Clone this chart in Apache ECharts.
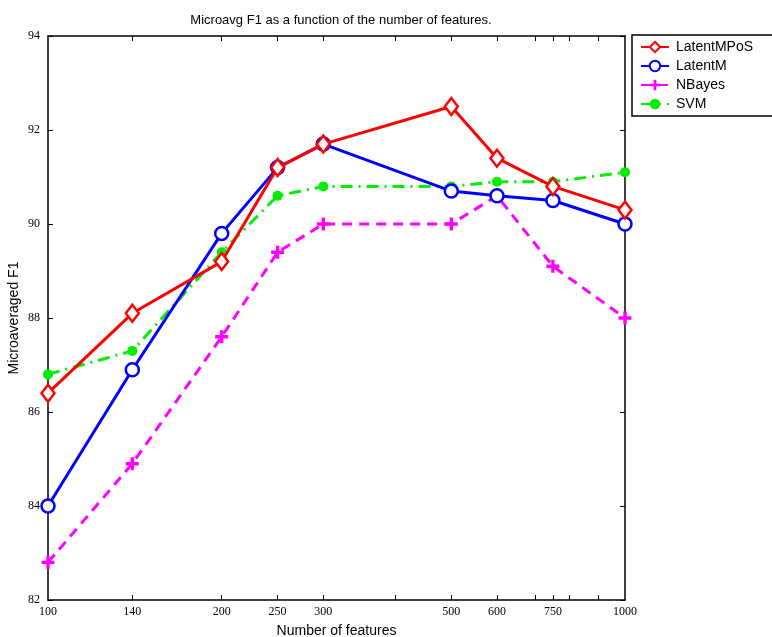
<!DOCTYPE html>
<html><head><meta charset="utf-8">
<script src="https://cdn.jsdelivr.net/npm/echarts@6/dist/echarts.min.js"></script>
<style>html,body{margin:0;padding:0;background:#fff}#c{width:772px;height:637px}</style>
</head><body><div id="c"></div>
<script>
const features = [100, 140, 200, 250, 300, 500, 600, 750, 1000];
const latentMPoS = [86.4, 88.1, 89.2, 91.2, 91.7, 92.5, 91.4, 90.8, 90.3];
const latentM    = [84.0, 86.9, 89.8, 91.2, 91.7, 90.7, 90.6, 90.5, 90.0];
const nBayes     = [82.8, 84.9, 87.6, 89.4, 90.0, 90.0, 90.6, 89.1, 88.0];
const svm        = [86.8, 87.3, 89.4, 90.6, 90.8, 90.8, 90.9, 90.9, 91.1];
const xTickLabels = [100, 140, 200, 250, 300, 500, 600, 750, 1000];
const xTickMarks = [140, 200, 250, 300, 400, 500, 600, 700, 750, 800, 900];

const pair = arr => features.map((f, i) => [f, arr[i]]);
const plus = 'path://M-1.3,-5L1.3,-5L1.3,-1.3L5,-1.3L5,1.3L1.3,1.3L1.3,5L-1.3,5L-1.3,1.3L-5,1.3L-5,-1.3L-1.3,-1.3Z';
const serif = '"Liberation Serif", "DejaVu Serif", serif';
const sans = '"Liberation Sans", Arial, sans-serif';

const chart = echarts.init(document.getElementById('c'), null, {renderer: 'canvas'});
const xBase = {
  type: 'log', logBase: 10, min: 100, max: 1000,
  axisLine: {show: true, onZero: false, lineStyle: {color: '#000', width: 1.5}},
  splitLine: {show: false}, minorTick: {show: false}, minorSplitLine: {show: false},
  axisTick: {show: true, inside: true, length: 5, customValues: xTickMarks, lineStyle: {color: '#000'}}
};
chart.setOption({
  animation: false,
  backgroundColor: '#fff',
  title: {
    text: 'Microavg F1 as a function of the number of features.',
    left: 336, top: 9, textAlign: 'center',
    textStyle: {fontFamily: sans, fontSize: 13, fontWeight: 'normal', color: '#000'}
  },
  legend: {
    left: 632, top: 35, orient: 'vertical',
    itemWidth: 28, itemHeight: 13, itemGap: 5,
    padding: [5, 20, 5, 8],
    borderColor: '#000', borderWidth: 1.5,
    textStyle: {fontFamily: sans, fontSize: 14, color: '#000', padding: [0, 0, 0, 2]},
    data: ['LatentMPoS', 'LatentM', 'NBayes', 'SVM']
  },
  grid: {left: 48, right: 147, top: 36, bottom: 37, show: false, containLabel: false, outerBoundsMode: 'none'},
  xAxis: [
    Object.assign({}, xBase, {
      position: 'bottom',
      name: 'Number of features', nameLocation: 'middle', nameGap: 24,
      nameTextStyle: {fontFamily: sans, fontSize: 14, color: '#000'},
      axisLabel: {show: true, customValues: xTickLabels, fontFamily: serif, fontSize: 12, color: '#000', margin: 6,
        formatter: v => String(Math.round(v))}
    }),
    Object.assign({}, xBase, {position: 'top', axisLabel: {show: false}})
  ],
  yAxis: [
    {
      type: 'value', min: 82, max: 94, interval: 2, position: 'left',
      name: 'Microaveraged F1', nameLocation: 'middle', nameGap: 27, nameMoveOverlap: false,
      nameTextStyle: {fontFamily: sans, fontSize: 14, color: '#000'},
      axisLine: {show: true, lineStyle: {color: '#000', width: 1.5}},
      axisTick: {show: true, inside: true, length: 5, lineStyle: {color: '#000'}},
      axisLabel: {fontFamily: serif, fontSize: 12, color: '#000', margin: 8},
      splitLine: {show: false}
    },
    {
      type: 'value', min: 82, max: 94, interval: 2, position: 'right',
      axisLine: {show: true, lineStyle: {color: '#000', width: 1.5}},
      axisTick: {show: true, inside: true, length: 5, lineStyle: {color: '#000'}},
      axisLabel: {show: false}, splitLine: {show: false}
    }
  ],
  series: [
    {name: 'LatentMPoS', type: 'line', data: pair(latentMPoS),
      symbol: 'diamond', symbolSize: [13, 17],
      lineStyle: {color: '#ff0000', width: 3},
      itemStyle: {color: '#fff', borderColor: '#ff0000', borderWidth: 2.5},
      color: '#ff0000', z: 4},
    {name: 'LatentM', type: 'line', data: pair(latentM),
      symbol: 'circle', symbolSize: 13,
      lineStyle: {color: '#0000ff', width: 3},
      itemStyle: {color: '#fff', borderColor: '#0000ff', borderWidth: 2.5},
      color: '#0000ff', z: 3},
    {name: 'NBayes', type: 'line', data: pair(nBayes),
      symbol: plus, symbolSize: 13,
      lineStyle: {color: '#ff00ff', width: 3, type: [10, 7]},
      itemStyle: {color: '#ff00ff', borderWidth: 0},
      color: '#ff00ff', z: 2},
    {name: 'SVM', type: 'line', data: pair(svm),
      symbol: 'circle', symbolSize: 10,
      lineStyle: {color: '#00ee00', width: 3, type: [12, 6, 2, 6]},
      itemStyle: {color: '#00ee00', borderWidth: 0},
      color: '#00ee00', z: 2}
  ]
});
</script></body></html>
